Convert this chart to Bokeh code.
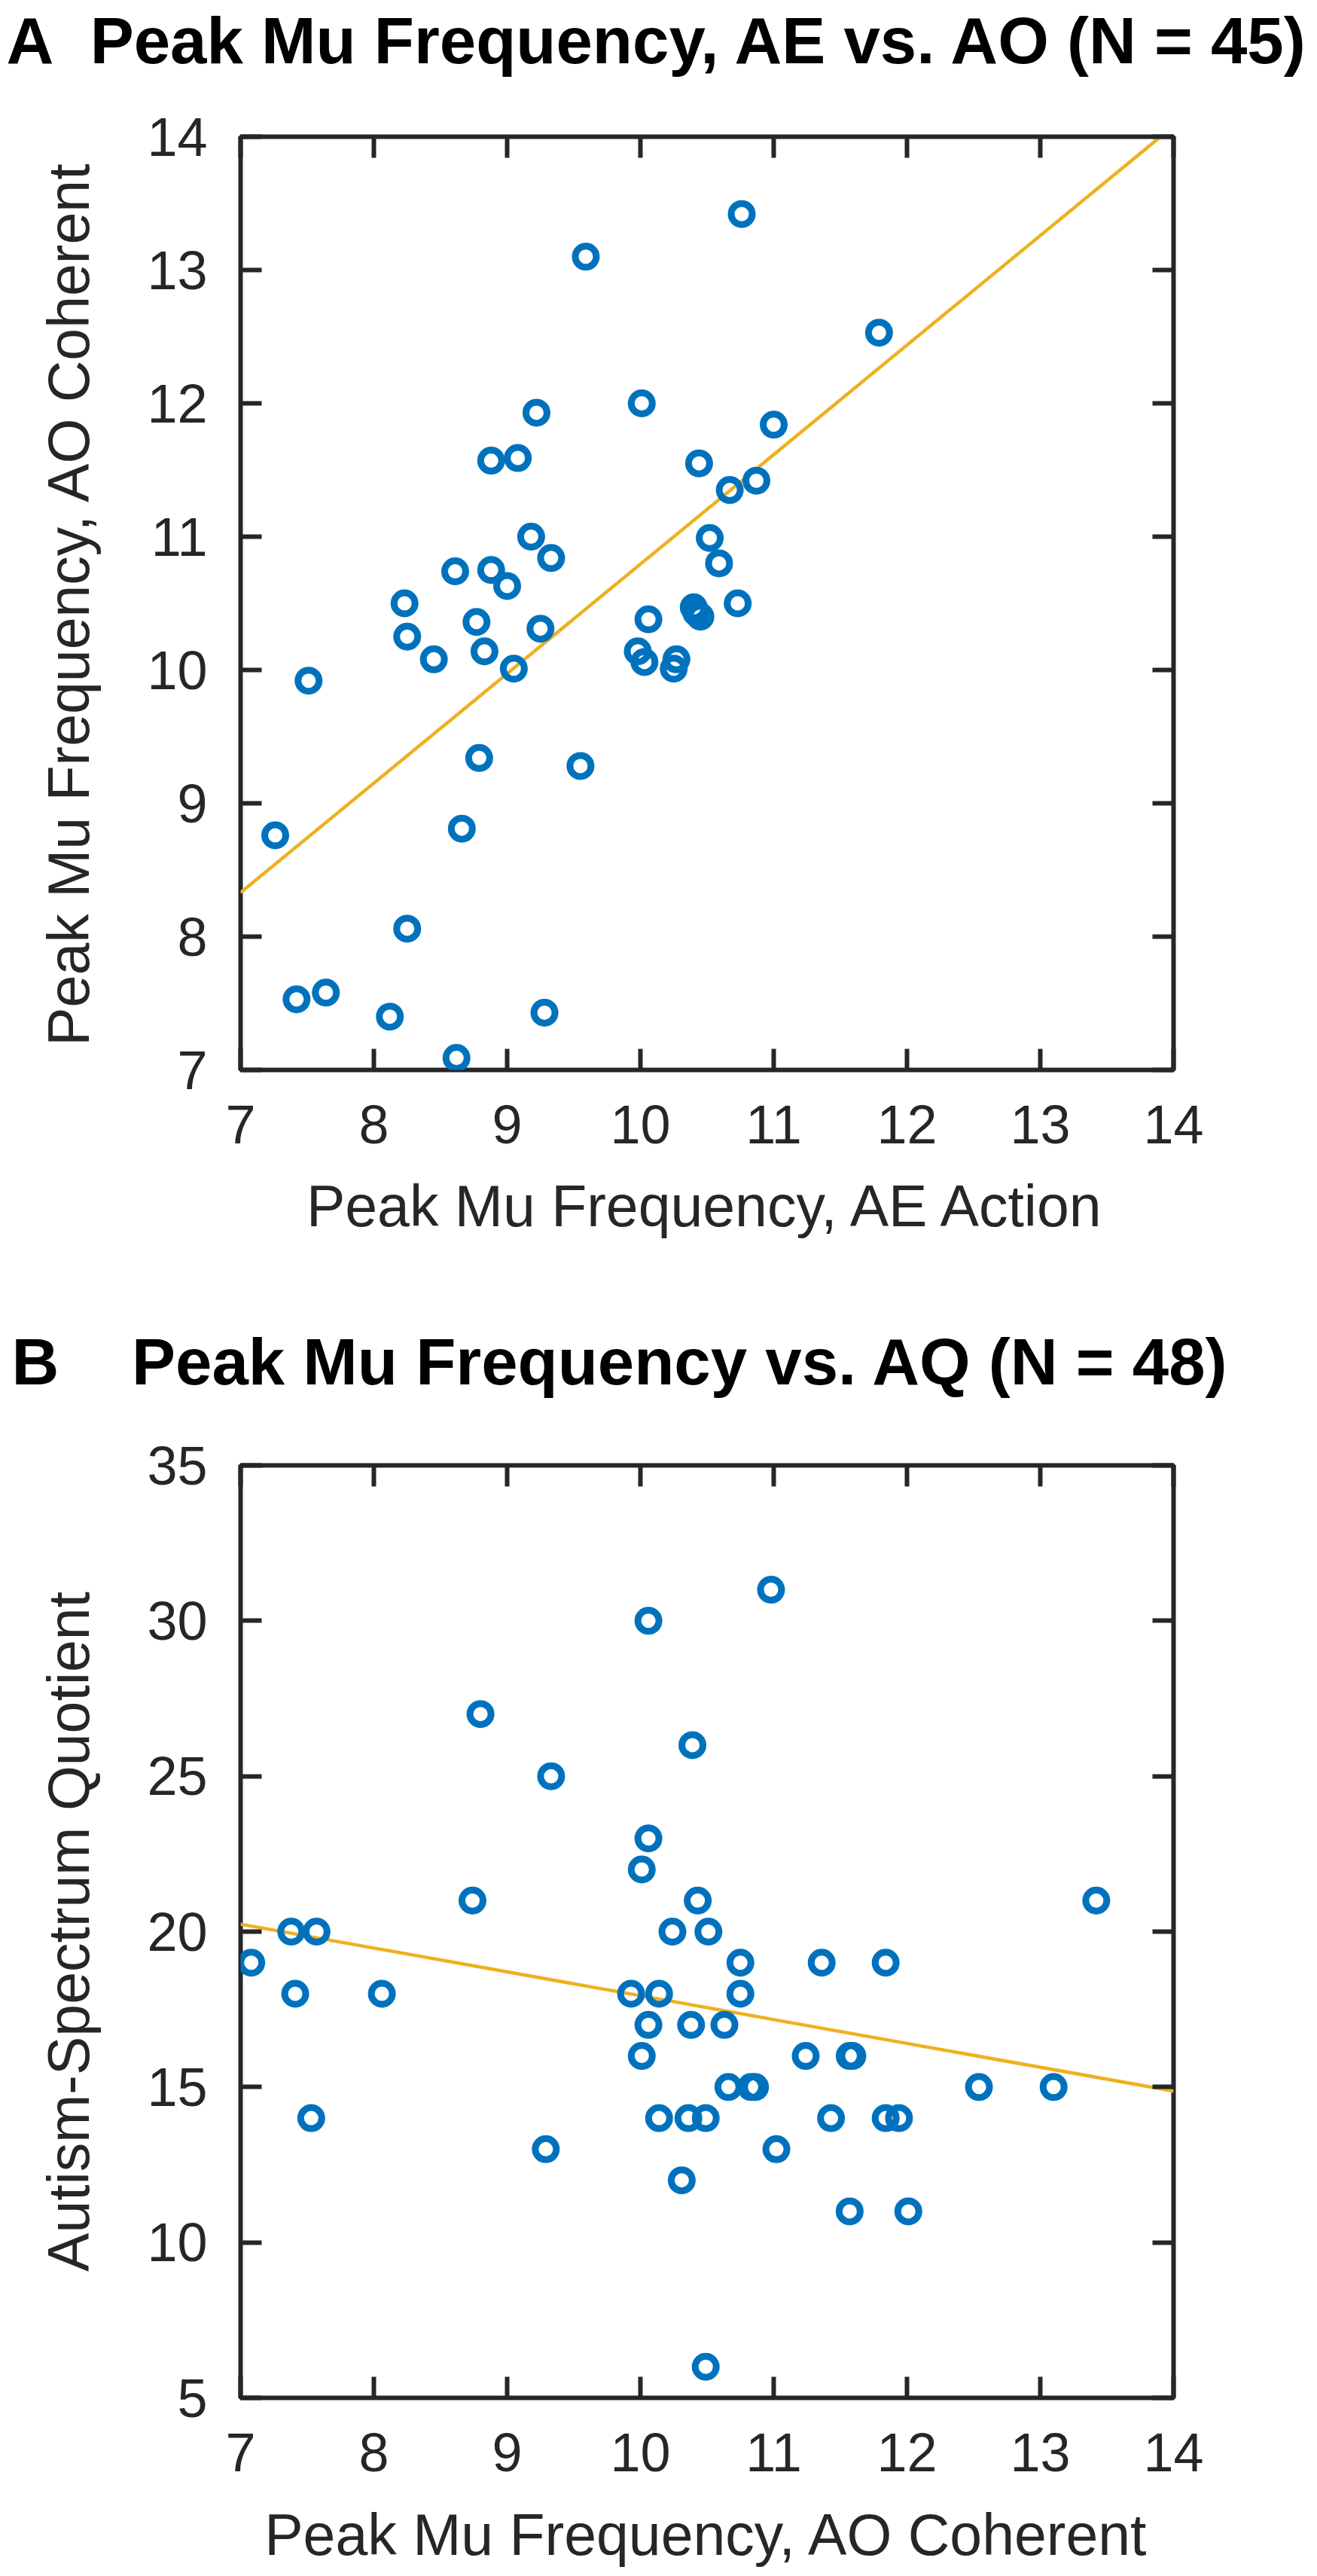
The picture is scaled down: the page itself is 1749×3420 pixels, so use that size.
from bokeh.plotting import figure
from bokeh.models import Range1d, FixedTicker, LinearAxis, Title, CustomJSTickFormatter
from bokeh.layouts import column
from bokeh.embed import file_html
from bokeh.resources import INLINE

# ---------------- data ----------------
# Panel A: peak mu frequency, AE Action (x) vs AO Coherent (y), N = 45
ae_action = [10.76, 9.59, 11.79, 10.01, 9.22, 11.00, 8.88, 9.08, 10.44, 10.67,
             10.87, 9.18, 10.52, 9.33, 10.59, 8.61, 8.88, 9.00, 8.23, 10.73,
             10.40, 10.42, 10.45, 8.77, 10.06, 8.25, 9.25, 8.45, 8.83, 9.98,
             10.03, 9.05, 10.27, 10.25, 7.51, 8.79, 9.55, 7.26, 8.66, 8.25,
             7.42, 7.64, 8.12, 9.28, 8.62]
ao_coherent_a = [13.42, 13.10, 12.53, 12.00, 11.93, 11.84, 11.57, 11.59, 11.55, 11.35,
                 11.42, 11.00, 10.99, 10.84, 10.80, 10.74, 10.75, 10.63, 10.50, 10.50,
                 10.47, 10.43, 10.40, 10.36, 10.38, 10.25, 10.31, 10.08, 10.14, 10.14,
                 10.06, 10.01, 10.08, 10.01, 9.92, 9.34, 9.28, 8.76, 8.81, 8.06,
                 7.53, 7.58, 7.40, 7.43, 7.09]
fit_x_a = [7, 14]
fit_y_a = [8.33, 14.08]

# Panel B: peak mu frequency, AO Coherent (x) vs AQ (y), N = 48
ao_coherent_b = [10.98, 10.06, 8.80, 10.39, 9.33, 10.06, 10.01, 8.74, 10.43, 13.42,
                 7.38, 7.57, 10.24, 10.51, 7.08, 10.75, 11.36, 11.84, 7.41, 8.06,
                 9.93, 10.14, 10.75, 10.06, 10.38, 10.63, 10.01, 11.24, 11.57, 11.59,
                 10.66, 10.83, 10.86, 12.54, 13.10, 7.53, 10.14, 10.36, 10.49, 11.43,
                 11.84, 11.94, 9.29, 11.02, 10.31, 11.57, 12.01, 10.49]
aq_score = [31, 30, 27, 26, 25, 23, 22, 21, 21, 21,
            20, 20, 20, 20, 19, 19, 19, 19, 18, 18,
            18, 18, 18, 17, 17, 17, 16, 16, 16, 16,
            15, 15, 15, 15, 15, 14, 14, 14, 14, 14,
            14, 14, 13, 13, 12, 11, 11, 6]
fit_x_b = [7, 14]
fit_y_b = [20.24, 14.87]

x_ticks = [7, 8, 9, 10, 11, 12, 13, 14]
y_ticks_a = [7, 8, 9, 10, 11, 12, 13, 14]
y_ticks_b = [5, 10, 15, 20, 25, 30, 35]

NB = "\u00a0"
title_a = "A" + NB * 2 + "Peak Mu Frequency, AE vs. AO (N = 45)"
title_b = "B" + NB * 4 + "Peak Mu Frequency vs. AQ (N = 48)"
xlabel_a = "Peak Mu Frequency, AE Action"
ylabel_a = "Peak Mu Frequency, AO Coherent"
xlabel_b = "Peak Mu Frequency, AO Coherent"
ylabel_b = "Autism-Spectrum Quotient"

# ---------------- styling ----------------
FONT = "Liberation Sans"
AX = "#262626"
BLUE = "#0072BD"
GOLD = "#EDB120"


def style_axis(ax, ticks, show_labels):
    ax.ticker = FixedTicker(ticks=ticks)
    ax.axis_line_color = None
    ax.major_tick_in = 28
    ax.major_tick_out = 0
    ax.major_tick_line_width = 6
    ax.major_tick_line_color = AX
    ax.minor_tick_line_color = None
    ax.major_label_text_font = FONT
    ax.major_label_text_color = AX
    ax.axis_label_text_font = FONT
    ax.axis_label_text_font_size = "77px"
    ax.axis_label_text_font_style = "normal"
    ax.axis_label_text_color = AX
    if show_labels:
        ax.major_label_text_font_size = "72px"
    else:
        ax.formatter = CustomJSTickFormatter(code="return ''")
        ax.major_label_text_font_size = "1px"
        ax.major_label_standoff = 0


def make_panel(x, y, fx, fy, yr, yticks, fh, top, bottom, title, title_offset,
               title_gap, xlabel, ylabel, xstand):
    p = figure(frame_width=1239, frame_height=fh,
               x_range=Range1d(7, 14), y_range=Range1d(*yr),
               output_backend="svg", toolbar_location=None,
               min_border_left=319, min_border_right=190,
               min_border_top=top, min_border_bottom=bottom,
               background_fill_color="white", border_fill_color="white",
               outline_line_color=AX, outline_line_width=6)
    p.grid.visible = False

    xa = p.xaxis[0]
    ya = p.yaxis[0]
    style_axis(xa, x_ticks, True)
    style_axis(ya, yticks, True)
    xa.axis_label = xlabel
    ya.axis_label = ylabel
    xa.major_label_standoff = 47
    ya.major_label_standoff = 44
    xa.axis_label_standoff = xstand
    ya.axis_label_standoff = 58

    top_ax = LinearAxis()
    right_ax = LinearAxis()
    style_axis(top_ax, x_ticks, False)
    style_axis(right_ax, yticks, False)
    # blank axis label on the top axis only reserves the gap under the title
    top_ax.axis_label = NB
    top_ax.axis_label_text_font_size = "2px"
    top_ax.axis_label_standoff = title_gap
    p.add_layout(top_ax, "above")
    p.add_layout(right_ax, "right")

    p.line(fx, fy, line_color=GOLD, line_width=4.5)
    p.scatter(x, y, marker="circle", size=28, fill_color=None,
              line_color=BLUE, line_width=9)

    p.add_layout(Title(text=title, align="left", offset=title_offset,
                       standoff=0, vertical_align="bottom",
                       text_font=FONT, text_font_size="87px",
                       text_font_style="bold", text_color="black"), "above")
    return p


pA = make_panel(ae_action, ao_coherent_a, fit_x_a, fit_y_a, (7, 14), y_ticks_a,
                1239, 181, 280, title_a, -311, 75, xlabel_a, ylabel_a, 37)
pB = make_panel(ao_coherent_b, aq_score, fit_x_b, fit_y_b, (5, 35), y_ticks_b,
                1238, 245, 236, title_b, -304, 85, xlabel_b, ylabel_b, 38)

layout = column(pA, pB, spacing=0)
open("out.html", "w").write(file_html(layout, INLINE))
